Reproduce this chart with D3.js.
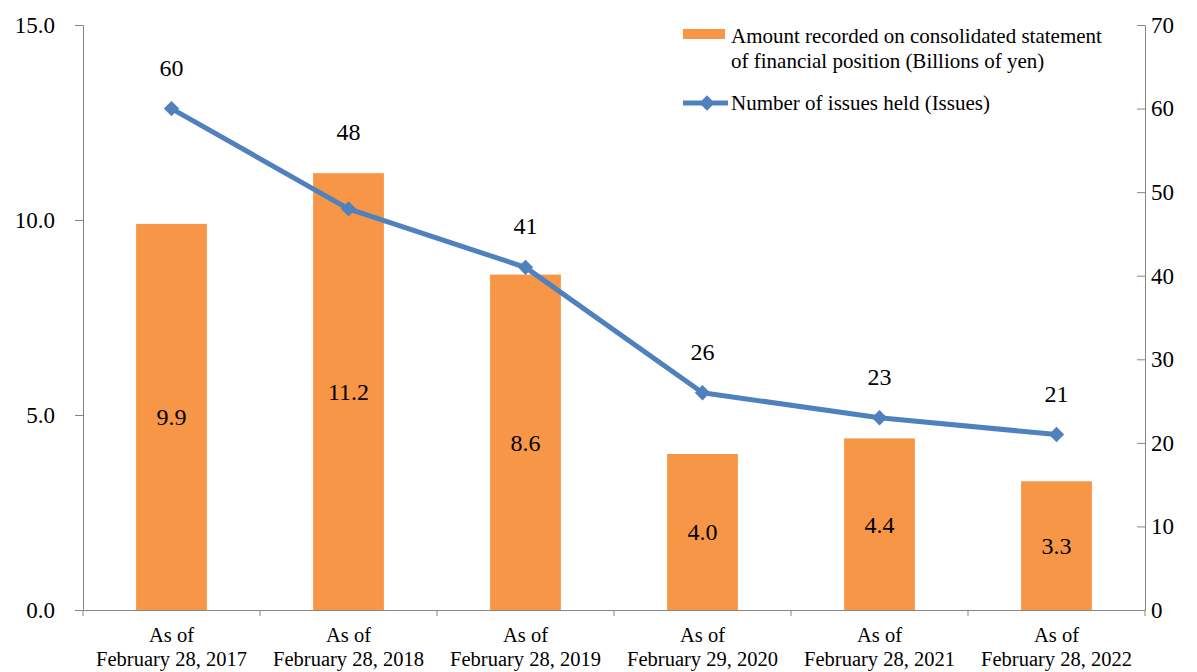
<!DOCTYPE html>
<html>
<head>
<meta charset="utf-8">
<script src="https://cdn.jsdelivr.net/npm/d3@7"></script>
<style>
  body { margin: 0; background: #fff; }
  svg, svg text { font-family: "Liberation Serif", "Times New Roman", serif; }
</style>
</head>
<body>
<div id="chart"></div>
<script>
// data
const categories = ['2017', '2018', '2019', '2020', '2021', '2022'];
const catLines = [
    ['As of', 'February 28, 2017'],
    ['As of', 'February 28, 2018'],
    ['As of', 'February 28, 2019'],
    ['As of', 'February 29, 2020'],
    ['As of', 'February 28, 2021'],
    ['As of', 'February 28, 2022']
];
const amounts = [9.9, 11.2, 8.6, 4.0, 4.4, 3.3];   // billions of yen
const issues = [60, 48, 41, 26, 23, 21];
const leftTicks = [0, 5, 10, 15];
const rightTicks = [0, 10, 20, 30, 40, 50, 60, 70];

const W = 1197, H = 672;
const margin = { top: 25, right: 52, bottom: 62, left: 83 };
const width = W - margin.left - margin.right;
const height = H - margin.top - margin.bottom;

const svg = d3.select('#chart').append('svg')
    .attr('width', W)
    .attr('height', H)
    .append('g')
    .attr('transform', `translate(${margin.left},${margin.top})`);

const x = d3.scaleBand().domain(categories).range([0, width]);
const yL = d3.scaleLinear().domain([0, 15]).range([height, 0]);
const yR = d3.scaleLinear().domain([0, 70]).range([height, 0]);

const orange = '#F79646';
const blue = '#4F81BD';
const axisGrey = '#868686';
const serif = '"Liberation Serif", "Times New Roman", serif';

// bars
const barW = x.bandwidth() * 0.4;
svg.selectAll('.bar')
    .data(amounts)
    .enter().append('rect')
    .attr('class', 'bar')
    .attr('x', (d, i) => x(categories[i]) + (x.bandwidth() - barW) / 2)
    .attr('y', d => yL(d))
    .attr('width', barW)
    .attr('height', d => height - yL(d))
    .attr('fill', orange);

// bar labels
svg.selectAll('.bar-label')
    .data(amounts)
    .enter().append('text')
    .attr('x', (d, i) => x(categories[i]) + x.bandwidth() / 2)
    .attr('y', d => (yL(d) + height) / 2)
    .attr('dy', '0.35em')
    .attr('text-anchor', 'middle')
    .attr('font-size', '24px')
    .text(d => d.toFixed(1));

// left axis
const leftAxis = svg.append('g')
    .call(d3.axisLeft(yL).tickValues(leftTicks).tickFormat(d3.format('.1f')).tickSize(8).tickPadding(20));
leftAxis.selectAll('text').attr('font-size', '23px').attr('fill', '#000').attr('font-family', serif);
leftAxis.selectAll('line,path').attr('stroke', axisGrey);

// right axis (ticks point inward)
const rightAxis = svg.append('g')
    .attr('transform', `translate(${width},0)`)
    .call(d3.axisRight(yR).tickValues(rightTicks).tickSizeInner(-8).tickSizeOuter(0).tickPadding(6));
rightAxis.selectAll('text').attr('font-size', '23px').attr('fill', '#000').attr('font-family', serif);
rightAxis.selectAll('line,path').attr('stroke', axisGrey);

// bottom axis
const bottomAxis = svg.append('g')
    .attr('transform', `translate(0,${height})`)
    .call(d3.axisBottom(x).tickSize(0).tickFormat(''));
bottomAxis.selectAll('path').attr('stroke', axisGrey);
bottomAxis.selectAll('.sep')
    .data(d3.range(categories.length + 1))
    .enter().append('line')
    .attr('x1', i => i * x.step())
    .attr('x2', i => i * x.step())
    .attr('y1', 0)
    .attr('y2', 6)
    .attr('stroke', axisGrey);

const catText = bottomAxis.selectAll('.cat')
    .data(catLines)
    .enter().append('text')
    .attr('text-anchor', 'middle')
    .attr('font-size', '20.5px')
    .attr('font-family', serif)
    .attr('fill', '#000')
    .attr('transform', (d, i) => `translate(${x(categories[i]) + x.bandwidth() / 2},0)`);
catText.selectAll('tspan')
    .data(d => d)
    .enter().append('tspan')
    .attr('x', 0)
    .attr('y', (d, j) => 32 + j * 24)
    .text(d => d);

// line
const line = d3.line()
    .x((d, i) => x(categories[i]) + x.bandwidth() / 2)
    .y(d => yR(d));

svg.append('path')
    .datum(issues)
    .attr('fill', 'none')
    .attr('stroke', blue)
    .attr('stroke-width', 5)
    .attr('stroke-linejoin', 'round')
    .attr('d', line);

const diamond = d3.symbol().type(d3.symbolDiamond2).size(150);
svg.selectAll('.marker')
    .data(issues)
    .enter().append('path')
    .attr('d', diamond)
    .attr('transform', (d, i) => `translate(${x(categories[i]) + x.bandwidth() / 2},${yR(d)})`)
    .attr('fill', blue);

// issue labels sit above whichever is higher: the point or the bar
svg.selectAll('.line-label')
    .data(issues)
    .enter().append('text')
    .attr('x', (d, i) => x(categories[i]) + x.bandwidth() / 2)
    .attr('y', (d, i) => Math.min(yR(d), yL(amounts[i])) - 33)
    .attr('text-anchor', 'middle')
    .attr('font-size', '24px')
    .text(d => d);

// legend
const legend = svg.append('g')
    .attr('transform', `translate(${683 - margin.left},${29 - margin.top})`);
legend.append('rect')
    .attr('x', 0).attr('y', 0)
    .attr('width', 42).attr('height', 10)
    .attr('fill', orange);
legend.append('text')
    .attr('x', 48).attr('y', 14)
    .attr('font-size', '21px')
    .text('Amount recorded on consolidated statement');
legend.append('text')
    .attr('x', 48).attr('y', 39)
    .attr('font-size', '21px')
    .text('of financial position (Billions of yen)');
legend.append('line')
    .attr('x1', 0).attr('x2', 45)
    .attr('y1', 74).attr('y2', 74)
    .attr('stroke', blue)
    .attr('stroke-width', 5);
legend.append('path')
    .attr('d', diamond)
    .attr('transform', 'translate(24,74)')
    .attr('fill', blue);
legend.append('text')
    .attr('x', 48).attr('y', 81)
    .attr('font-size', '21px')
    .text('Number of issues held (Issues)');
</script>
</body>
</html>
